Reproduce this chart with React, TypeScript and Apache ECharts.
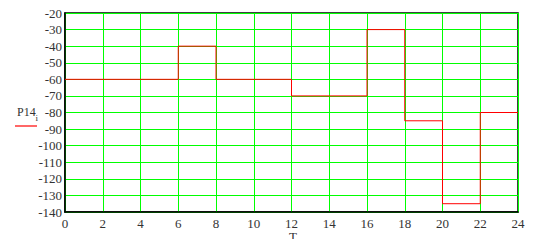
import React, { useEffect, useRef } from "react";
import * as echarts from "echarts";

const times = [0, 6, 8, 12, 16, 18, 20, 22, 24];
const values = [-60, -40, -60, -70, -30, -85, -135, -80, -80];
const seriesName = "P14";
const xName = "T";
const subscript = "i";

export default function App() {
  const ref = useRef<HTMLDivElement>(null);
  useEffect(() => {
    if (!ref.current) return;
    const chart = echarts.init(ref.current, undefined, { renderer: "svg" });
    const data = times.map((t, i) => [t, values[i]]);
    const font = "Liberation Serif";
    chart.setOption({
      animation: false,
      backgroundColor: "#fff",
      textStyle: { fontFamily: font },
      grid: {
        left: 65,
        top: 13,
        right: 20,
        bottom: 35,
        outerBoundsMode: "none",
        containLabel: false,
        show: true,
        borderColor: "#000",
        borderWidth: 1.5,
        backgroundColor: "transparent",
      },
      xAxis: {
        type: "value",
        min: 0,
        max: 24,
        interval: 2,
        axisLine: { show: true, lineStyle: { color: "#000", width: 1.5 } },
        axisTick: { show: false },
        axisLabel: { color: "#333", fontFamily: font, fontSize: 13, lineHeight: 12, margin: 5 },
        splitLine: { show: true, lineStyle: { color: "#00ff00", width: 1 } },
      },
      yAxis: {
        type: "value",
        min: -140,
        max: -20,
        interval: 10,
        axisLine: { show: true, lineStyle: { color: "#000", width: 1.5 } },
        axisTick: { show: false },
        axisLabel: { color: "#333", fontFamily: font, fontSize: 13, margin: 3 },
        splitLine: { show: true, lineStyle: { color: "#00ff00", width: 1 } },
      },
      series: [
        {
          name: seriesName,
          type: "line",
          step: "end",
          data,
          showSymbol: false,
          lineStyle: { color: "#ff0000", width: 1 },
          z: 3,
        },
      ],
      graphic: [
        {
          type: "text",
          left: 17,
          top: 106,
          style: { text: seriesName, fontFamily: font, fontSize: 12, fill: "#333" },
        },
        {
          type: "text",
          left: 35.5,
          top: 113,
          style: { text: subscript, fontFamily: font, fontSize: 9, fill: "#333" },
        },
        {
          type: "line",
          shape: { x1: 15, y1: 126, x2: 37, y2: 126 },
          style: { stroke: "#ff0000", lineWidth: 1.2 },
        },
        {
          type: "text",
          left: 289,
          top: 230,
          style: { text: xName, fontFamily: font, fontSize: 13, fill: "#333" },
        },
        {
          type: "text",
          left: 297,
          top: 237,
          style: { text: subscript, fontFamily: font, fontSize: 9, fill: "#333" },
        },
      ],
    });
    return () => chart.dispose();
  }, []);
  return <div ref={ref} style={{ width: 538, height: 247, margin: -8 }} />;
}
